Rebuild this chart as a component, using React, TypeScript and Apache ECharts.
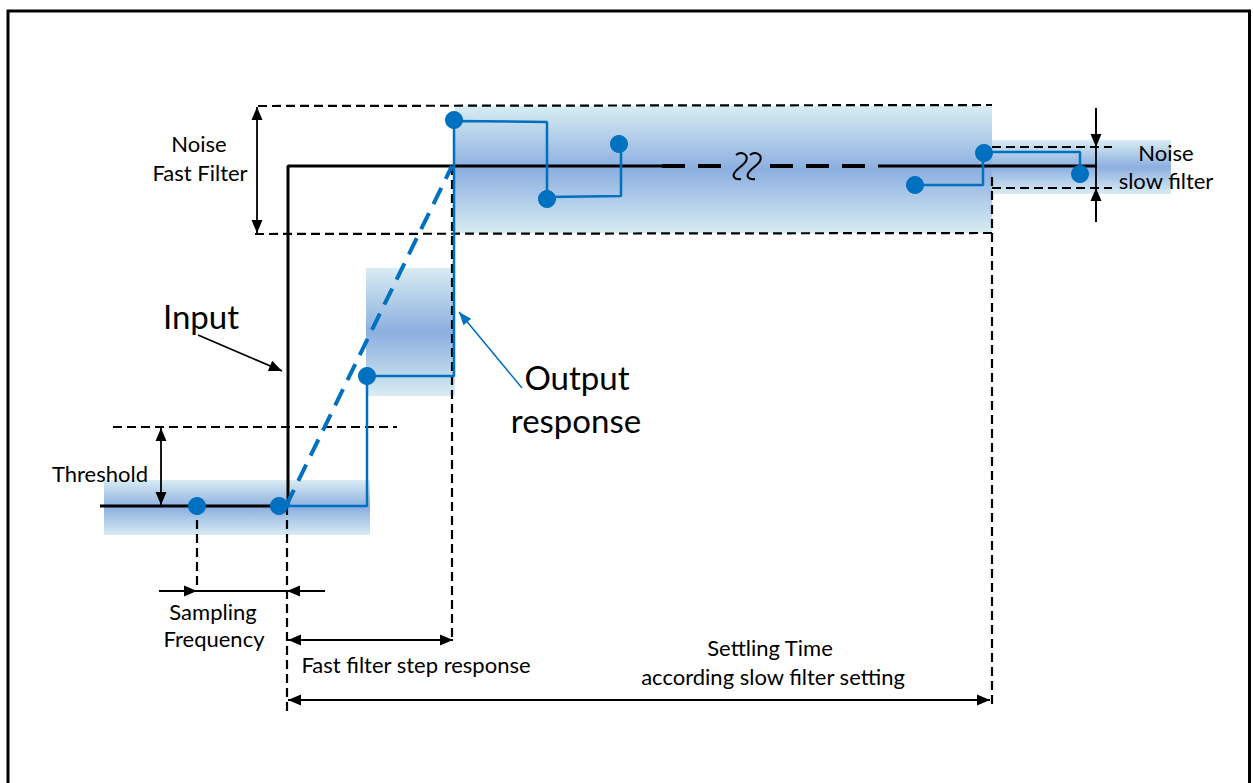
import React, { useEffect, useRef } from "react";
import * as echarts from "echarts";

const W = 1253;
const H = 783;

// ---- data (in diagram units: x = time axis, y = signal axis, inverted) ----
// gradient noise bands [x0, y0, x1, y1]
const bands = [
  [104, 480, 370, 535],
  [366, 268, 455, 396],
  [455, 106, 992, 233],
  [992, 140, 1171, 194],
];

// input step signal
const inputSolid = [[100, 506], [288, 506], [288, 166], [662, 166]];
const inputDashed = [[662, 166, 721, 166], [770, 166, 865, 166]];
const inputTail = [[878, 166], [1097, 166]];

// output response
const outputA = [[288, 506], [367, 506], [367, 376], [454, 376], [454, 121], [547, 122], [547, 197], [621, 196], [621, 144]];
const outputB = [[915, 185], [983, 185], [983, 152], [1080, 152], [1080, 174]];
const outputDiag = [[286, 506], [452, 166]];
const samples = [[197, 506], [279, 506], [367, 376], [454, 120], [547, 199], [619, 144], [915, 185], [984, 153], [1080, 174]];

// break symbol position
const breakMark = [[747, 166]];

// dashed guide lines [x1, y1, x2, y2]
const guides = [
  [113, 427, 397, 427],
  [258, 106, 992, 105],
  [255, 234, 992, 233],
  [992, 147, 1112, 147],
  [992, 188, 1112, 188],
  [197, 506, 197, 590],
  [287, 506, 287, 712],
  [452, 166, 452, 640],
  [992, 177, 992, 705],
];

// dimension arrows [x1, y1, x2, y2, headAtStart, headAtEnd]
const arrows = [
  [257, 107, 257, 233, 1, 1],
  [161, 428, 161, 505, 1, 1],
  [1096, 108, 1096, 222, 0, 0],
  [1096, 108, 1096, 147, 0, 1],
  [1096, 222, 1096, 188, 0, 1],
  [159, 591, 325, 591, 0, 0],
  [159, 591, 197, 591, 0, 1],
  [325, 591, 287, 591, 0, 1],
  [288, 640, 453, 640, 1, 1],
  [288, 700, 990, 700, 1, 1],
  [198, 335, 282, 371, 0, 1],
];
const pointerArrows = [[522, 388, 459, 312, 0, 1]];

// labels
const labelTexts = [
  "Noise", "Fast Filter", "Input", "Output", "response", "Threshold",
  "Sampling", "Frequency", "Fast filter step response", "Settling Time",
  "according slow filter setting", "Noise", "slow filter",
];
const labelPos = [
  [199, 143], [200, 172], [201, 316], [577, 377], [576, 420], [100, 473],
  [213, 611], [214, 638], [416, 664], [770, 647],
  [773, 676], [1166, 152], [1166, 180],
];
const labelSize = [22, 22, 33, 33, 33, 22, 22, 22, 22, 22, 22, 22, 22];

const BLUE = "#0070c0";
const FONT = "Lato, 'Open Sans', sans-serif";

function segRender(style: any) {
  return (params: any, api: any) => {
    const a = api.coord([api.value(0), api.value(1)]);
    const b = api.coord([api.value(2), api.value(3)]);
    return {
      type: "line",
      shape: { x1: a[0], y1: a[1], x2: b[0], y2: b[1] },
      style: { ...style },
    };
  };
}

function arrowRender(color: string, width: number, len: number, hw: number) {
  return (params: any, api: any) => {
    const a = api.coord([api.value(0), api.value(1)]);
    const b = api.coord([api.value(2), api.value(3)]);
    const hs = api.value(4);
    const he = api.value(5);
    const head = (tip: number[], from: number[]) => {
      const dx = tip[0] - from[0];
      const dy = tip[1] - from[1];
      const L = Math.hypot(dx, dy) || 1;
      const ux = dx / L;
      const uy = dy / L;
      const bx = tip[0] - ux * len;
      const by = tip[1] - uy * len;
      return {
        type: "polygon",
        shape: { points: [[tip[0], tip[1]], [bx - uy * hw, by + ux * hw], [bx + uy * hw, by - ux * hw]] },
        style: { fill: color, stroke: null },
      };
    };
    const children: any[] = [
      {
        type: "line",
        shape: { x1: a[0], y1: a[1], x2: b[0], y2: b[1] },
        style: { stroke: color, lineWidth: width },
      },
    ];
    if (he) children.push(head(b, a));
    if (hs) children.push(head(a, b));
    return { type: "group", children };
  };
}

const bandFill = () =>
  new echarts.graphic.LinearGradient(0, 0, 0, 1, [
    { offset: 0, color: "#d8ecf2" },
    { offset: 0.5, color: "#8cafe0" },
    { offset: 1, color: "#d8ecf2" },
  ]);

export default function App() {
  const ref = useRef<HTMLDivElement>(null);
  useEffect(() => {
    document.body.style.margin = "0";
    const chart = echarts.init(ref.current!, null, { renderer: "svg" });
    const option: any = {
      animation: false,
      backgroundColor: "#ffffff",
      grid: { left: 0, right: 0, top: 0, bottom: 0 },
      xAxis: { type: "value", min: 0, max: W, show: false },
      yAxis: { type: "value", min: 0, max: H, inverse: true, show: false },
      graphic: [
        {
          type: "rect",
          shape: { x: 8, y: 11, width: 1241.5, height: 800 },
          style: { fill: "none", stroke: "#000", lineWidth: 3 },
          z: 100,
        },
        ...labelTexts.map((t, i) => ({
          type: "text",
          x: labelPos[i][0],
          y: labelPos[i][1],
          style: {
            text: t,
            fill: "#000",
            font: `${labelSize[i]}px ${FONT}`,
            align: "center",
            verticalAlign: "middle",
          },
          z: 100,
        })),
      ],
      series: [
        {
          type: "custom",
          name: "bands",
          z: 1,
          silent: true,
          encode: { x: [0, 2], y: [1, 3] },
          data: bands,
          renderItem: (params: any, api: any) => {
            const p0 = api.coord([api.value(0), api.value(1)]);
            const p1 = api.coord([api.value(2), api.value(3)]);
            return {
              type: "rect",
              shape: { x: p0[0], y: p0[1], width: p1[0] - p0[0], height: p1[1] - p0[1] },
              style: { fill: bandFill() },
            };
          },
        },
        {
          type: "custom",
          name: "guides",
          z: 2,
          silent: true,
          encode: { x: [0, 2], y: [1, 3] },
          data: guides,
          renderItem: segRender({ stroke: "#000", lineWidth: 2.2, lineDash: [9, 5] }),
        },
        {
          type: "line",
          name: "input",
          z: 3,
          silent: true,
          data: inputSolid,
          showSymbol: false,
          lineStyle: { color: "#000", width: 3 },
        },
        {
          type: "custom",
          name: "inputDashed",
          z: 3,
          silent: true,
          encode: { x: [0, 2], y: [1, 3] },
          data: inputDashed,
          renderItem: segRender({ stroke: "#000", lineWidth: 4, lineDash: [23, 13] }),
        },
        {
          type: "line",
          name: "inputTail",
          z: 3,
          silent: true,
          data: inputTail,
          showSymbol: false,
          lineStyle: { color: "#000", width: 3 },
        },
        {
          type: "custom",
          name: "break",
          z: 3,
          silent: true,
          data: breakMark,
          renderItem: (params: any, api: any) => {
            const c = api.coord([api.value(0), api.value(1)]);
            const d = "M -4 -11 C 1 -15, 9 -12, 6 -5 C 4 -1, -2 2, -5 6 C -8 10, -6 14, 1 13";
            return {
              type: "group",
              children: [
                { type: "path", x: c[0] - 7, y: c[1], shape: { pathData: d }, style: { fill: "none", stroke: "#000", lineWidth: 2 } },
                { type: "path", x: c[0] + 7, y: c[1], shape: { pathData: d }, style: { fill: "none", stroke: "#000", lineWidth: 2 } },
              ],
            };
          },
        },
        {
          type: "custom",
          name: "arrows",
          z: 3,
          silent: true,
          encode: { x: [0, 2], y: [1, 3] },
          data: arrows,
          renderItem: arrowRender("#000", 1.8, 13, 5.5),
        },
        {
          type: "custom",
          name: "pointer",
          z: 3,
          silent: true,
          encode: { x: [0, 2], y: [1, 3] },
          data: pointerArrows,
          renderItem: arrowRender(BLUE, 1.5, 13, 5),
        },
        {
          type: "line",
          name: "outputDiag",
          z: 4,
          silent: true,
          data: outputDiag,
          showSymbol: false,
          lineStyle: { color: BLUE, width: 4, type: [18, 10] },
        },
        {
          type: "line",
          name: "outputA",
          z: 4,
          silent: true,
          data: outputA,
          showSymbol: false,
          lineStyle: { color: BLUE, width: 2.5 },
        },
        {
          type: "line",
          name: "outputB",
          z: 4,
          silent: true,
          data: outputB,
          showSymbol: false,
          lineStyle: { color: BLUE, width: 2.5 },
        },
        {
          type: "scatter",
          name: "samples",
          z: 5,
          silent: true,
          data: samples,
          symbolSize: 18,
          itemStyle: { color: BLUE, opacity: 1 },
        },
      ],
    };
    chart.setOption(option);
    return () => chart.dispose();
  }, []);
  return <div ref={ref} style={{ width: W, height: H }} />;
}
